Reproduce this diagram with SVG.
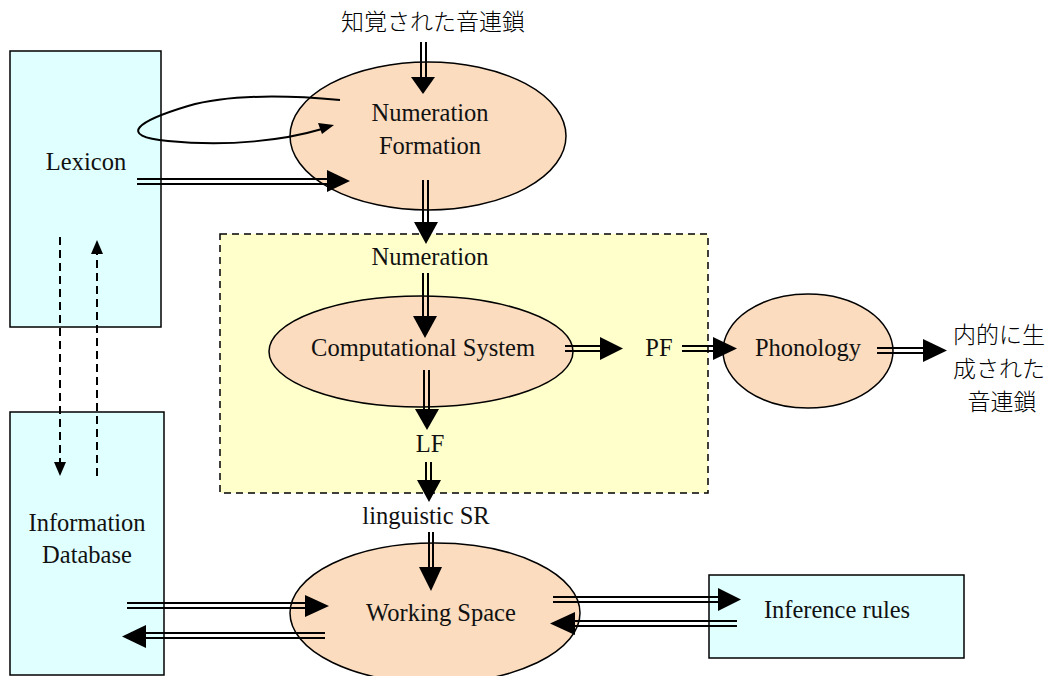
<svg xmlns="http://www.w3.org/2000/svg" width="1058" height="676" viewBox="0 0 1058 676">
<style>
.box{fill:#E0FFFF;stroke:#000;stroke-width:1.5}
.ell{fill:#FBDCBE;stroke:#000;stroke-width:1.5}
.t{font-family:'Liberation Serif','Times New Roman','DejaVu Serif',serif;font-size:24.5px;fill:#111;text-anchor:middle}
.j{font-family:'Noto Sans CJK JP',sans-serif;font-size:23px;font-weight:300;fill:#000;text-anchor:middle}
.sh{stroke:#000;stroke-width:2;fill:none}
.hd{fill:#000;stroke:none}
.ds{stroke:#000;stroke-width:2;fill:none;stroke-dasharray:8 5}
</style>
<rect width="1058" height="676" fill="#fff"/>
<g id="cs-region">
<rect x="220" y="234" width="488" height="259" fill="#FFFFCC" stroke="#000" stroke-width="1.5" stroke-dasharray="7 5"/>
</g>
<g id="lexicon">
<rect class="box" x="10" y="51" width="151" height="276"/>
<text class="t" x="86" y="170">Lexicon</text>
</g>
<g id="infodb">
<rect class="box" x="10" y="412" width="154" height="263"/>
<text class="t" x="87" y="531">Information</text>
<text class="t" x="87" y="563">Database</text>
</g>
<g id="numform">
<ellipse class="ell" cx="428" cy="136" rx="138" ry="74"/>
<text class="t" x="430" y="121">Numeration</text>
<text class="t" x="430" y="154">Formation</text>
</g>
<g id="compsys">
<ellipse class="ell" cx="421" cy="351.5" rx="152" ry="55.5"/>
<text class="t" x="423" y="356">Computational System</text>
</g>
<g id="phonology">
<ellipse class="ell" cx="808" cy="351" rx="85" ry="57"/>
<text class="t" x="808" y="356">Phonology</text>
</g>
<g id="workspace">
<ellipse class="ell" cx="435" cy="613" rx="145" ry="70"/>
<text class="t" x="441" y="621">Working Space</text>
</g>
<g id="inference">
<rect class="box" x="709" y="575" width="255" height="83"/>
<text class="t" x="837" y="618">Inference rules</text>
</g>
<g id="labels">
<text class="j" x="433" y="30">知覚された音連鎖</text>
<text class="t" x="430" y="265">Numeration</text>
<text class="t" x="659" y="356">PF</text>
<text class="t" x="430" y="452">LF</text>
<text class="t" x="426" y="524">linguistic SR</text>
<text class="j" x="999" y="343">内的に生</text>
<text class="j" x="999" y="377">成された</text>
<text class="j" x="1002" y="410">音連鎖</text>
</g>
<g id="connectors">
<path class="sh" d="M421,42 V78 M426,42 V78"/>
<polygon class="hd" points="411,77 435,77 423,94"/>
<path class="sh" d="M340,100 C 285,95 230,94 188,106 C 138,121 116,136 168,141 C 230,147 285,140 322,129"/>
<polygon class="hd" points="334,125 318,123 322,134"/>
<path class="sh" d="M137,179 H330 M137,184 H330"/>
<polygon class="hd" points="327,170 327,192 350,181"/>
<path class="sh" d="M423,180 V224 M428,180 V224"/>
<polygon class="hd" points="414,222 438,222 426,244"/>
<path class="sh" d="M423,273 V318 M428,273 V318"/>
<polygon class="hd" points="413,316 437,316 425,338"/>
<path class="sh" d="M424,370 V411 M429,370 V411"/>
<polygon class="hd" points="415,409 439,409 427,430"/>
<path class="sh" d="M426,462 V482 M431,462 V482"/>
<polygon class="hd" points="417,480 441,480 429,502"/>
<path class="sh" d="M429,532 V569 M433,532 V569"/>
<polygon class="hd" points="419,567 442,567 431,591"/>
<path class="sh" d="M565,346 H602 M565,351 H602"/>
<polygon class="hd" points="600,337 600,360 623,348.5"/>
<path class="sh" d="M682,346 H715 M682,351 H715"/>
<polygon class="hd" points="713,337 713,360 737,348.5"/>
<path class="sh" d="M877,348 H925 M877,353 H925"/>
<polygon class="hd" points="923,339 923,362 947,350.5"/>
<path class="ds" d="M60,237 V463"/>
<polygon class="hd" points="54,462 66,462 60,476"/>
<path class="ds" d="M97,476 V253"/>
<polygon class="hd" points="91,254 103,254 97,240"/>
<path class="sh" d="M127,603 H307 M127,608 H307"/>
<polygon class="hd" points="305,595 305,617 329,606"/>
<path class="sh" d="M325,633 H144 M325,638 H144"/>
<polygon class="hd" points="146,625 146,648 122,636.5"/>
<path class="sh" d="M553,597 H720 M553,602 H720"/>
<polygon class="hd" points="718,588 718,611 741,599.5"/>
<path class="sh" d="M737,621 H573 M737,626 H573"/>
<polygon class="hd" points="575,612 575,635 550,623.5"/>
</g>
</svg>
